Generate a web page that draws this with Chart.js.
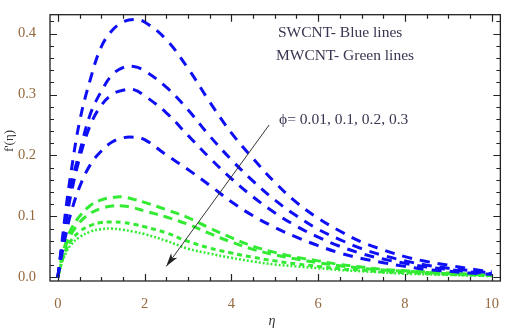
<!DOCTYPE html>
<html>
<head>
<meta charset="utf-8">
<script src="https://cdn.jsdelivr.net/npm/chart.js@4/dist/chart.umd.min.js"></script>
<style>
  html, body { margin: 0; padding: 0; background: #fff; }
</style>
</head>
<body>
<canvas id="chart" width="505" height="332"></canvas>
<script>
// eta grid shared by every curve
const eta = [0, 0.1, 0.2, 0.3, 0.5, 0.75, 1, 1.25, 1.5, 1.75, 2, 2.5, 3, 3.5, 4, 4.5, 5, 5.5, 6, 6.5, 7, 7.5, 8, 8.5, 9, 9.5, 10];

// SWCNT (blue), phi = 0.01, 0.1, 0.2, 0.3
const swcnt1 = [0, 0.06, 0.12, 0.17, 0.255, 0.325, 0.378, 0.405, 0.419, 0.423, 0.419, 0.39, 0.343, 0.288, 0.237, 0.195, 0.156, 0.123, 0.097, 0.076, 0.058, 0.045, 0.034, 0.026, 0.02, 0.014, 0.009];
const swcnt2 = [0, 0.055, 0.105, 0.15, 0.205, 0.268, 0.305, 0.332, 0.344, 0.346, 0.339, 0.312, 0.275, 0.232, 0.193, 0.158, 0.127, 0.101, 0.079, 0.062, 0.047, 0.036, 0.027, 0.02, 0.015, 0.011, 0.007];
const swcnt3 = [0, 0.05, 0.095, 0.135, 0.195, 0.25, 0.282, 0.3, 0.307, 0.308, 0.298, 0.27, 0.233, 0.196, 0.162, 0.132, 0.106, 0.084, 0.066, 0.051, 0.039, 0.03, 0.023, 0.017, 0.013, 0.009, 0.006];
const swcnt4 = [0, 0.04, 0.075, 0.105, 0.148, 0.185, 0.207, 0.222, 0.229, 0.23, 0.226, 0.201, 0.177, 0.151, 0.124, 0.101, 0.082, 0.066, 0.052, 0.04, 0.031, 0.024, 0.018, 0.013, 0.01, 0.007, 0.005];

// MWCNT (green), same phi values
const mwcnt1 = [0, 0.035, 0.06, 0.078, 0.1, 0.118, 0.127, 0.131, 0.132, 0.128, 0.123, 0.111, 0.098, 0.081, 0.065, 0.051, 0.041, 0.033, 0.027, 0.021, 0.017, 0.013, 0.011, 0.009, 0.007, 0.005, 0.004];
const mwcnt2 = [0, 0.032, 0.055, 0.07, 0.09, 0.105, 0.113, 0.117, 0.117, 0.114, 0.109, 0.099, 0.087, 0.072, 0.058, 0.046, 0.037, 0.03, 0.024, 0.019, 0.015, 0.012, 0.01, 0.008, 0.006, 0.005, 0.004];
const mwcnt3 = [0, 0.028, 0.047, 0.06, 0.075, 0.085, 0.09, 0.091, 0.09, 0.087, 0.083, 0.073, 0.059, 0.048, 0.04, 0.033, 0.027, 0.022, 0.018, 0.014, 0.012, 0.009, 0.008, 0.006, 0.005, 0.004, 0.003];
const mwcnt4 = [0, 0.025, 0.042, 0.053, 0.066, 0.075, 0.079, 0.08, 0.078, 0.075, 0.071, 0.06, 0.047, 0.039, 0.032, 0.026, 0.021, 0.018, 0.015, 0.012, 0.01, 0.008, 0.006, 0.005, 0.004, 0.003, 0.002];

const xTicks = [0, 2, 4, 6, 8, 10];
const yTicks = [0, 0.1, 0.2, 0.3, 0.4];

const BLUE = 'rgb(15, 15, 245)';
const GREEN = 'rgb(50, 235, 50)';
const LABEL = '#94683c';
const SERIF = '"Liberation Serif", "DejaVu Serif", serif';

const pts = ys => ys.map((y, i) => ({ x: eta[i], y: y }));
const curve = (ys, color, dash, width) => ({
  data: pts(ys),
  borderColor: color,
  borderWidth: width,
  borderDash: dash,
  pointRadius: 0,
  tension: 0.4,
  fill: false,
});

// frame with inward ticks on all four sides, plus the notes and arrow
const framePlugin = {
  id: 'frame',
  afterDraw(chart) {
    const { ctx, chartArea: a, scales: { x, y } } = chart;
    ctx.save();
    ctx.strokeStyle = '#222';
    ctx.lineWidth = 1.3;
    ctx.strokeRect(a.left, a.top, a.right - a.left, a.bottom - a.top);

    ctx.lineWidth = 1.2;
    ctx.beginPath();
    for (let v = 0; v <= 10.001; v += 0.5) {
      const px = Math.round(x.getPixelForValue(v)) + 0.5;
      const len = Math.abs(v % 2) < 1e-6 ? 7 : 4;
      ctx.moveTo(px, a.bottom); ctx.lineTo(px, a.bottom - len);
      ctx.moveTo(px, a.top); ctx.lineTo(px, a.top + len);
    }
    for (let v = 0; v <= 0.4201; v += 0.02) {
      const py = Math.round(y.getPixelForValue(v)) + 0.5;
      const major = Math.abs(v * 10 - Math.round(v * 10)) < 1e-6;
      const len = major ? 7 : 4;
      ctx.moveTo(a.left, py); ctx.lineTo(a.left + len, py);
      ctx.moveTo(a.right, py); ctx.lineTo(a.right - len, py);
    }
    ctx.stroke();

    // arrow across the curves
    const x0 = x.getPixelForValue(4.87), y0 = y.getPixelForValue(0.25);
    const x1 = x.getPixelForValue(2.5), y1 = y.getPixelForValue(0.018);
    ctx.strokeStyle = '#333';
    ctx.fillStyle = '#222';
    ctx.lineWidth = 1;
    ctx.beginPath(); ctx.moveTo(x0, y0); ctx.lineTo(x1, y1); ctx.stroke();
    const ang = Math.atan2(y1 - y0, x1 - x0);
    ctx.beginPath();
    ctx.moveTo(x1, y1);
    ctx.lineTo(x1 - 14 * Math.cos(ang - 0.28), y1 - 14 * Math.sin(ang - 0.28));
    ctx.lineTo(x1 - 10 * Math.cos(ang), y1 - 10 * Math.sin(ang));
    ctx.lineTo(x1 - 14 * Math.cos(ang + 0.28), y1 - 14 * Math.sin(ang + 0.28));
    ctx.closePath(); ctx.fill();

    // notes
    ctx.fillStyle = '#3a3550';
    ctx.font = '15.5px ' + SERIF;
    ctx.textBaseline = 'middle';
    ctx.textAlign = 'left';
    ctx.fillText('SWCNT- Blue lines', 278, 33);
    ctx.fillText('MWCNT- Green lines', 276, 56);
    ctx.fillText('\u03D5= 0.01, 0.1, 0.2, 0.3', 279, 120);

    // axis titles
    ctx.fillStyle = '#333';
    ctx.font = 'italic 14px ' + SERIF;
    ctx.textAlign = 'center';
    ctx.fillText('\u03B7', 272, 321);
    ctx.save();
    ctx.translate(10, 141);
    ctx.rotate(-Math.PI / 2);
    ctx.font = '13px ' + SERIF;
    ctx.fillText("f'(\u03B7)", 0, 0);
    ctx.restore();
    ctx.restore();
  }
};

new Chart(document.getElementById('chart'), {
  type: 'line',
  data: {
    datasets: [
      curve(swcnt1, BLUE, [10, 8], 3),
      curve(swcnt2, BLUE, [10, 8], 3),
      curve(swcnt3, BLUE, [10, 8], 3),
      curve(swcnt4, BLUE, [10, 8], 3),
      curve(mwcnt1, GREEN, [9, 6], 3),
      curve(mwcnt2, GREEN, [9, 6], 3),
      curve(mwcnt3, GREEN, [5, 4], 3),
      curve(mwcnt4, GREEN, [2, 2], 2.5),
    ],
  },
  options: {
    responsive: false,
    animation: false,
    layout: { padding: { top: 3, right: 3, left: 0, bottom: 0 } },
    plugins: { legend: { display: false }, tooltip: { enabled: false } },
    scales: {
      x: {
        type: 'linear',
        min: -0.18,
        max: 10.2,
        grid: { display: false },
        border: { display: false },
        afterBuildTicks: s => { s.ticks = xTicks.map(v => ({ value: v })); },
        afterFit: s => { s.height = 51; },
        ticks: {
          padding: 6,
          color: LABEL,
          font: { family: SERIF, size: 14.5 },
          maxRotation: 0,
        },
      },
      y: {
        type: 'linear',
        min: -0.006,
        max: 0.431,
        grid: { display: false },
        border: { display: false },
        afterBuildTicks: s => { s.ticks = yTicks.map(v => ({ value: v })); },
        afterFit: s => { s.width = 50; },
        ticks: {
          padding: 6,
          color: LABEL,
          font: { family: SERIF, size: 14.5 },
          callback: v => v.toFixed(1),
        },
      },
    },
  },
  plugins: [framePlugin],
});
</script>
</body>
</html>
